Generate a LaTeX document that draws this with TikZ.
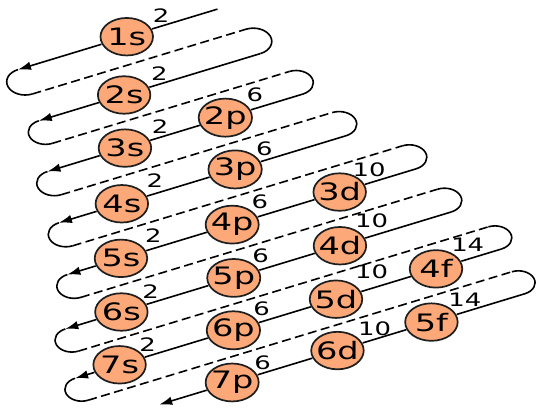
\documentclass[tikz,border=0pt]{standalone}
\usepackage{fontspec}
\setmainfont{DejaVu Sans}
\usetikzlibrary{arrows.meta}
\definecolor{orbfill}{RGB}{252,168,120}
\definecolor{orbline}{RGB}{30,30,30}
\begin{document}
\begin{tikzpicture}[x=1pt,y=1pt,
  orb/.style={circle,draw=orbline,fill=orbfill,line width=1.7pt,minimum size=37.5pt,inner sep=0pt,font=\fontsize{24}{27}\selectfont},
  cnt/.style={inner sep=0pt,font=\fontsize{18.5}{20}\selectfont},
  solidrow/.style={line width=1.6pt,-{Latex[length=13pt,width=8.5pt]}},
  turn/.style={line width=1.6pt},
  backrow/.style={line width=1.6pt,dash pattern=on 9pt off 4.5pt}]
\useasboundingbox (0,0) rectangle (536,408);
\begin{scope}[xscale=1.4]
\begin{scope}[rotate=23]
 % orbital centres
 \coordinate (c1s) at (228.4,306.4);
 \coordinate (c2s) at (203.9,253.5);
 \coordinate (c3s) at (183.7,204.4);
 \coordinate (c2p) at (261.6,204.4);
 \coordinate (c4s) at (159.9,154.0);
 \coordinate (c3p) at (247.8,154.0);
 \coordinate (c5s) at (138.0,104.0);
 \coordinate (c4p) at (224.3,104.0);
 \coordinate (c3d) at (307.7,104.0);
 \coordinate (c6s) at (117.3,54.5);
 \coordinate (c5p) at (204.5,54.5);
 \coordinate (c4d) at (286.9,54.5);
 \coordinate (c7s) at (95.5,6.4);
 \coordinate (c6p) at (183.8,6.4);
 \coordinate (c5d) at (263.4,6.4);
 \coordinate (c4f) at (341.0,6.4);
 \coordinate (c7p) at (162.6,-41.3);
 \coordinate (c6d) at (244.3,-41.3);
 \coordinate (c5f) at (317.2,-41.3);
 % right ends
 \coordinate (R1) at (298.8,306.4);
 \coordinate (R2) at (309.7,253.5);
 \coordinate (R3) at (321.7,204.4);
 \coordinate (R4) at (333.8,154.0);
 \coordinate (R5) at (367.0,104.0);
 \coordinate (R6) at (373.2,54.5);
 \coordinate (R7) at (391.8,6.4);
 \coordinate (R8) at (389.7,-41.3);
 % left ends
 \coordinate (L1) at (144.0,306.4);
 \coordinate (L2) at (137.7,253.5);
 \coordinate (L3) at (123.6,204.4);
 \coordinate (L4) at (111.1,154.0);
 \coordinate (L5) at (96.4,104.0);
 \coordinate (L6) at (73.8,54.5);
 \coordinate (L7) at (61.0,6.4);
 \coordinate (L8) at (106.0,-41.3);
 % dashed return lines
 \coordinate (A1) at (144.0,279.95); \coordinate (B1) at (309.7,279.95);
 \coordinate (A2) at (137.7,228.95); \coordinate (B2) at (321.7,228.95);
 \coordinate (A3) at (123.6,179.2);  \coordinate (B3) at (333.8,179.2);
 \coordinate (A4) at (111.1,129.0);  \coordinate (B4) at (367.0,129.0);
 \coordinate (A5) at (96.4,79.25);   \coordinate (B5) at (373.2,79.25);
 \coordinate (A6) at (73.8,30.45);   \coordinate (B6) at (391.8,30.45);
 \coordinate (A7) at (61.0,-17.45);  \coordinate (B7) at (389.7,-17.45);
\end{scope}
\begin{scope}[transform shape]
 \node[orb] (1s) at (c1s) {1s};
 \node[orb] (2s) at (c2s) {2s};
 \node[orb] (3s) at (c3s) {3s};
 \node[orb] (2p) at (c2p) {2p};
 \node[orb] (4s) at (c4s) {4s};
 \node[orb] (3p) at (c3p) {3p};
 \node[orb] (5s) at (c5s) {5s};
 \node[orb] (4p) at (c4p) {4p};
 \node[orb] (3d) at (c3d) {3d};
 \node[orb] (6s) at (c6s) {6s};
 \node[orb] (5p) at (c5p) {5p};
 \node[orb] (4d) at (c4d) {4d};
 \node[orb] (7s) at (c7s) {7s};
 \node[orb] (6p) at (c6p) {6p};
 \node[orb] (5d) at (c5d) {5d};
 \node[orb] (4f) at (c4f) {4f};
 \node[orb] (7p) at (c7p) {7p};
 \node[orb] (6d) at (c6d) {6d};
 \node[orb] (5f) at (c5f) {5f};
 % electron counts
 \node[cnt] (n1s) at (115.0,392.0) {2};
 \node[cnt] (n2s) at (113.8,334.7) {2};
 \node[cnt] (n3s) at (114.3,281.5) {2};
 \node[cnt] (n4s) at (110.7,227.0) {2};
 \node[cnt] (n5s) at (109.5,172.0) {2};
 \node[cnt] (n6s) at (107.6,116.7) {2};
 \node[cnt] (n7s) at (105.5,63.3) {2};
 \node[cnt] (n2p) at (182.1,313.0) {6};
 \node[cnt] (n3p) at (188.8,259.7) {6};
 \node[cnt] (n4p) at (185.7,206.3) {6};
 \node[cnt] (n5p) at (186.2,152.0) {6};
 \node[cnt] (n6p) at (186.9,99.3) {6};
 \node[cnt] (n7p) at (187.6,45.3) {6};
 \node[cnt] (n3d) at (263.7,238.0) {10};
 \node[cnt] (n4d) at (265.5,187.3) {10};
 \node[cnt] (n5d) at (265.5,135.8) {10};
 \node[cnt] (n6d) at (267.6,78.8) {10};
 \node[cnt] (n4f) at (334.1,163.5) {14};
 \node[cnt] (n5f) at (332.1,108.3) {14};
\end{scope}
\begin{scope}[rotate=23]
 \draw[solidrow] (R1) -- (1s) -- (L1);
 \draw[turn] (L1) arc[start angle=90,end angle=270,radius=13.225];
 \draw[backrow] (A1) -- (B1);
 \draw[turn] (B1) arc[start angle=90,end angle=-90,radius=13.225];
 \draw[solidrow] (R2) -- (2s) -- (L2);
 \draw[turn] (L2) arc[start angle=90,end angle=270,radius=12.275];
 \draw[backrow] (A2) -- (B2);
 \draw[turn] (B2) arc[start angle=90,end angle=-90,radius=12.275];
 \draw[solidrow] (R3) -- (2p) -- (3s) -- (L3);
 \draw[turn] (L3) arc[start angle=90,end angle=270,radius=12.6];
 \draw[backrow] (A3) -- (B3);
 \draw[turn] (B3) arc[start angle=90,end angle=-90,radius=12.6];
 \draw[solidrow] (R4) -- (3p) -- (4s) -- (L4);
 \draw[turn] (L4) arc[start angle=90,end angle=270,radius=12.5];
 \draw[backrow] (A4) -- (B4);
 \draw[turn] (B4) arc[start angle=90,end angle=-90,radius=12.5];
 \draw[solidrow] (R5) -- (3d) -- (4p) -- (5s) -- (L5);
 \draw[turn] (L5) arc[start angle=90,end angle=270,radius=12.375];
 \draw[backrow] (A5) -- (B5);
 \draw[turn] (B5) arc[start angle=90,end angle=-90,radius=12.375];
 \draw[solidrow] (R6) -- (4d) -- (5p) -- (6s) -- (L6);
 \draw[turn] (L6) arc[start angle=90,end angle=270,radius=12.025];
 \draw[backrow] (A6) -- (B6);
 \draw[turn] (B6) arc[start angle=90,end angle=-90,radius=12.025];
 \draw[solidrow] (R7) -- (4f) -- (5d) -- (6p) -- (7s) -- (L7);
 \draw[turn] (L7) arc[start angle=90,end angle=270,radius=11.925];
 \draw[backrow] (A7) -- (B7);
 \draw[turn] (B7) arc[start angle=90,end angle=-90,radius=11.925];
 \draw[solidrow] (R8) -- (5f) -- (6d) -- (7p) -- (L8);
\end{scope}
\end{scope}
\end{tikzpicture}
\end{document}
